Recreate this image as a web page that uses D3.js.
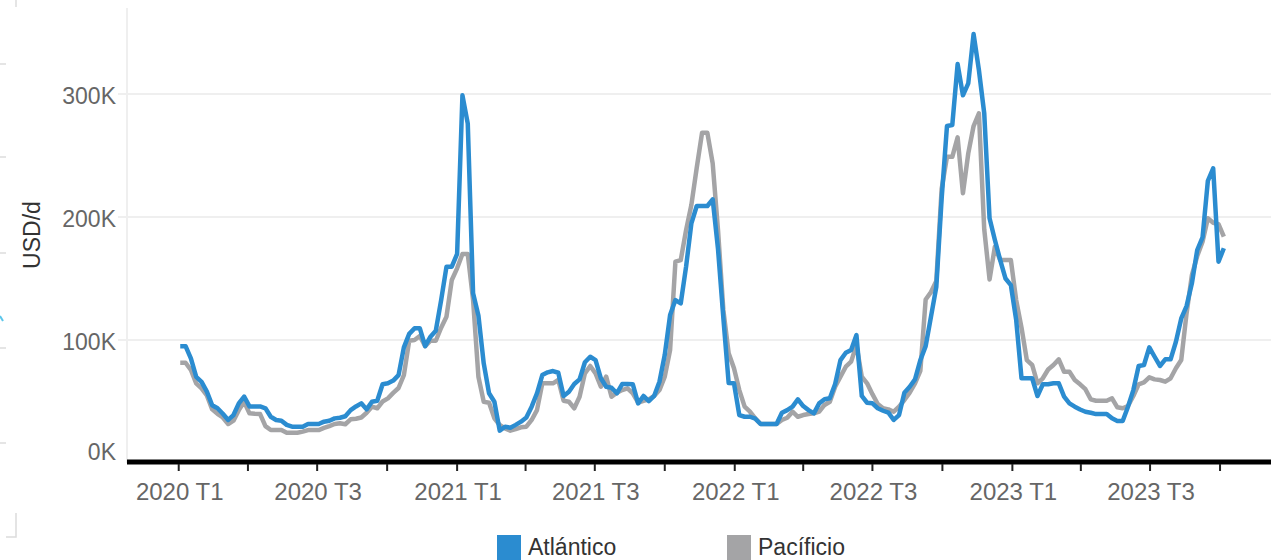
<!DOCTYPE html>
<html>
<head>
<meta charset="utf-8">
<script src="https://cdn.jsdelivr.net/npm/d3@7"></script>
<style>
  body { margin: 0; background: #fff; }
  svg { display: block; font-family: "Liberation Sans", Arial, sans-serif; }
</style>
</head>
<body>
<div id="chart"></div>
<script>
// weekly values (USD/d), first week ends 2020-01-03
let firstWeek = Date.UTC(2020, 0, 3);

let atlantico = [
    95, 95, 85, 70, 66, 58, 47, 44.5, 40, 35,
    39, 48.5, 54, 46, 46, 46, 44.5, 37.6, 35, 34.4,
    31, 29.5, 29.5, 29.5, 31.7, 31.7, 31.7, 33.6, 34.4, 36.3,
    36.8, 38, 43, 46, 48.5, 43.6, 49.8, 50.6, 64, 64.8,
    67, 71.5, 94, 105, 109.5, 109.5, 95, 102.7, 107.6, 132.5,
    159.6, 159.6, 170, 299, 276, 138, 120, 81, 56.7, 49.8,
    26.3, 29.5, 28.7, 31, 33.6, 37, 45.8, 56.7, 71.5, 73.7,
    74.8, 73.4, 54.5, 58, 64.2, 68, 81.9, 86.4, 83.7, 68.9,
    62, 61.2, 56.7, 64.2, 64.2, 64, 48.5, 54.5, 50.4, 54.5,
    66.1, 88, 120.3, 132.5, 129.8, 159.6, 194.9, 209, 209, 209,
    214.4, 174, 118, 65, 64.8, 39, 37.6, 37.6, 36, 31.7,
    31.7, 31.7, 31.7, 40.9, 43, 45.8, 51.8, 46.3, 43, 40.4,
    48.5, 51.8, 52.6, 64.2, 83.7, 89.7, 91.9, 104, 54.5, 49,
    48.5, 44.5, 42.5, 40.9, 35, 39, 57.2, 62, 68, 83.7,
    95, 119, 143.3, 215, 274, 274.8, 324.4, 299, 308.7, 348.8,
    319.5, 284.3, 199, 181.3, 165, 150, 144.7, 116.3, 68.9, 68.9,
    68.9, 54.5, 64, 64, 64.8, 64.8, 54, 48.5, 45.8, 43.5,
    41.7, 40.9, 39.8, 39.8, 39.8, 36.3, 34.1, 34.1, 45.8, 59.3,
    78.9, 79.7, 94, 86.4, 78.9, 84.3, 84.3, 98.6, 117.6, 127.6,
    146.1, 173.2, 183.5, 229.5, 239.6, 163.7, 174.6
];

let pacifico = [
    81.5, 81.5, 75.6, 64.8, 60.7, 55, 43.6, 40, 37, 31.7,
    34.4, 43, 49.8, 40.4, 40, 39.8, 30, 26.8, 26.8, 26.8,
    24.6, 24.6, 24.6, 25.5, 26.8, 26.8, 26.8, 28.5, 30, 31.7,
    32.3, 31.5, 35.5, 36, 37, 40.9, 45.8, 44.5, 50, 52.6,
    57, 61, 71.5, 99.4, 100, 103.3, 95, 99.4, 99.4, 110,
    119, 148.8, 158.3, 170, 170, 132.5, 70.2, 49.8, 49, 36.3,
    30.9, 28.2, 26.3, 27.5, 29, 29.5, 35, 43, 64.8, 64.8,
    64.8, 67.5, 50.6, 49.8, 44.5, 53.9, 72.9, 78.9, 72.9, 62,
    70.2, 53.9, 57.2, 59.3, 60.7, 56.7, 49, 50.5, 51.8, 54.5,
    59.3, 70.2, 91.9, 163.7, 165, 189.4, 210, 240, 268.5, 268.5,
    243.6, 189.4, 124.4, 89.2, 77, 59.3, 45.8, 41.7, 36.3, 31.7,
    31.7, 31.7, 31.7, 35, 36.8, 41.7, 37.6, 39, 39.8, 40.4,
    41.7, 47.2, 49.8, 62, 70.2, 78.3, 82.4, 95.9, 70.2, 64.8,
    56, 48, 44.5, 43.6, 41.7, 45.8, 51.2, 57.2, 64.8, 75,
    133, 139, 148, 223, 249, 249, 264.8, 219.3, 251.8, 274,
    284.3, 190, 149.3, 175.9, 165, 165, 165, 132.5, 110, 83.7,
    79.7, 64.8, 68.9, 76, 79.7, 84.3, 74.2, 74.2, 67.5, 64,
    60, 51.8, 50.6, 50.6, 50.6, 52.6, 45.3, 44.5, 46.3, 54.5,
    64, 65.5, 69.7, 68, 67.5, 66.1, 68.9, 77, 83.7, 121.7,
    152.8, 168.3, 179.9, 199, 195.4, 194.3, 184
];

let seriesNames = ["Atlántico", "Pacíficio"];
let seriesColors = ["#2b8cd0", "#a4a4a6"];
let quarterNames = ["T1", "T2", "T3", "T4"];
let yTickValues = [0, 100000, 200000, 300000];
let yTitle = "USD/d";

function mainChart() {
    let w = 1271, h = 560;
    let plotLeft = 127, plotTop = 8, plotBottom = 463;
    let tickFont = "23px 'Liberation Sans', Arial, sans-serif";

    let svg = d3.select("#chart")
                .append("svg")
                .attr("width", w)
                .attr("height", h);

    let x = d3.scaleUtc()
              .domain([Date.UTC(2019, 9, 25), Date.UTC(2023, 11, 7)])
              .range([plotLeft, w]);

    let y = d3.scaleLinear()
              .domain([0, 370000])
              .range([plotBottom, plotTop]);

    // turn the weekly arrays into {date, value}
    function toPoints(values) {
        return values.map(function(v, i) {
            return {date: d3.utcDay.offset(new Date(firstWeek), 7 * i), value: v * 1000};
        });
    }
    let series = [toPoints(atlantico), toPoints(pacifico)];

    // stray marks on the left edge of the screenshot
    let edge = svg.append("g").attr("stroke", "#dcdcdc").attr("stroke-width", 1.5).attr("fill", "none");
    [64, 157, 253, 348, 443].forEach(function(yy) {
        edge.append("line").attr("x1", 0).attr("x2", 6).attr("y1", yy).attr("y2", yy);
    });
    edge.append("line").attr("x1", 16).attr("x2", 16).attr("y1", 0).attr("y2", 7);
    edge.append("path").attr("d", "M16,513V537H6");
    svg.append("line").attr("x1", 0).attr("x2", 3).attr("y1", 316).attr("y2", 321)
       .attr("stroke", "#5cc6ea").attr("stroke-width", 2);

    // grid
    svg.append("line")
       .attr("x1", plotLeft).attr("x2", plotLeft)
       .attr("y1", plotTop).attr("y2", plotBottom)
       .style("stroke", "#efefef").style("stroke-width", 2);

    svg.selectAll("line.grid")
       .data(yTickValues.filter(d => d > 0))
       .enter().append("line")
       .attr("class", "grid")
       .attr("x1", 118).attr("x2", w)
       .attr("y1", d => y(d)).attr("y2", d => y(d))
       .style("stroke", "#efefef").style("stroke-width", 2);

    // y labels
    svg.selectAll("text.ylab")
       .data(yTickValues)
       .enter().append("text")
       .attr("class", "ylab")
       .attr("x", 116)
       .attr("y", d => d == 0 ? 460 : y(d) + 10)
       .attr("text-anchor", "end")
       .style("font", tickFont)
       .style("fill", "#666")
       .text(d => (d / 1000) + "K");

    svg.append("text")
       .attr("transform", "translate(40,235) rotate(-90)")
       .attr("text-anchor", "middle")
       .style("font", tickFont)
       .style("fill", "#333")
       .text(yTitle);

    // lines, pacifico below atlantico
    let line = d3.line()
                 .x(d => x(d.date))
                 .y(d => y(d.value));

    [1, 0].forEach(function(i) {
        svg.append("path")
           .datum(series[i])
           .attr("d", line)
           .style("fill", "none")
           .style("stroke", seriesColors[i])
           .style("stroke-width", 4.5)
           .style("stroke-linejoin", "round");
    });

    // x axis
    svg.append("line")
       .attr("x1", plotLeft).attr("x2", w)
       .attr("y1", 462).attr("y2", 462)
       .style("stroke", "#000").style("stroke-width", 5);

    let quarters = d3.utcMonth.every(3).range(new Date(Date.UTC(2020, 0, 1)), new Date(Date.UTC(2023, 11, 1)));

    svg.selectAll("line.xtick")
       .data(quarters)
       .enter().append("line")
       .attr("class", "xtick")
       .attr("x1", d => x(d)).attr("x2", d => x(d))
       .attr("y1", 464).attr("y2", 471)
       .style("stroke", "#222").style("stroke-width", 2);

    svg.selectAll("text.xlab")
       .data(quarters.filter(d => d.getUTCMonth() % 6 == 0))
       .enter().append("text")
       .attr("class", "xlab")
       .attr("x", d => x(d) + 1)
       .attr("y", 500)
       .attr("text-anchor", "middle")
       .style("font", "24px 'Liberation Sans', Arial, sans-serif")
       .style("fill", "#666")
       .text(d => d.getUTCFullYear() + " " + quarterNames[Math.floor(d.getUTCMonth() / 3)]);

    // legend
    let legendX = [497, 727];
    let legend = svg.selectAll("g.legend")
                    .data(seriesNames)
                    .enter().append("g")
                    .attr("class", "legend")
                    .attr("transform", (d, i) => "translate(" + legendX[i] + ",535)");

    legend.append("rect")
          .attr("width", 24).attr("height", 26)
          .style("fill", (d, i) => seriesColors[i]);

    legend.append("text")
          .attr("x", 31).attr("y", 20)
          .style("font", tickFont)
          .style("fill", "#333")
          .text(d => d);
}

mainChart();
</script>
</body>
</html>
